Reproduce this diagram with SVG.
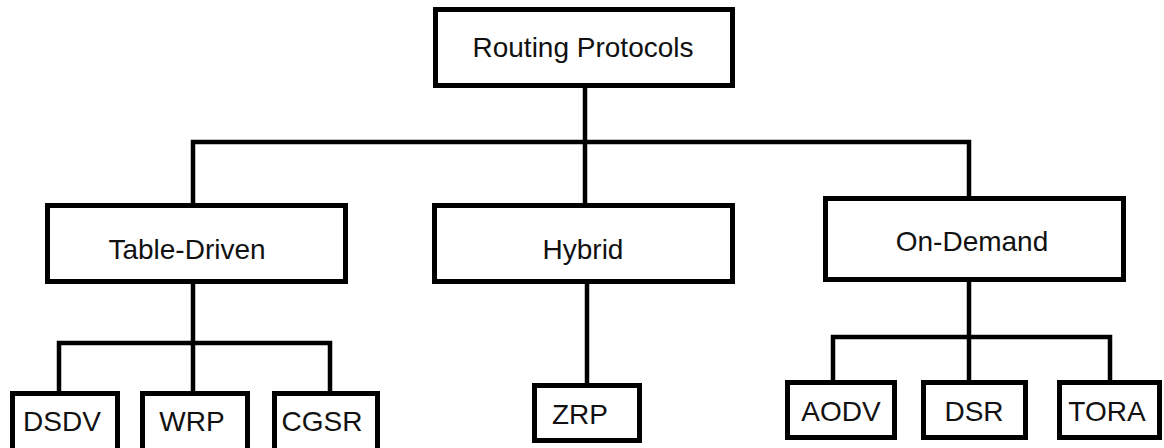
<svg xmlns="http://www.w3.org/2000/svg" width="1164" height="448" viewBox="0 0 1164 448">
<style>
.box{fill:#fff;stroke:#000;stroke-width:5}
.ln{fill:none;stroke:#000;stroke-width:4.5;stroke-linecap:square}
.t{font-family:"Liberation Sans",Arial,sans-serif;font-size:28px;fill:#111;text-anchor:middle}
</style>
<rect width="1164" height="448" fill="#fff"/>
<g id="connectors">
<polyline class="ln" points="585,88 585,203"/>
<polyline class="ln" points="193,203 193,142 969,142 969,196"/>
<polyline class="ln" points="193,284 193,343"/>
<polyline class="ln" points="59,391 59,343 330,343 330,391"/>
<polyline class="ln" points="193,343 193,391"/>
<polyline class="ln" points="587,284 587,383"/>
<polyline class="ln" points="969,282 969,380"/>
<polyline class="ln" points="833,380 833,337 1110,337 1110,380"/>
</g>
<g id="root"><rect class="box" x="435.5" y="9.5" width="297" height="76"/><text class="t" x="583" y="57">Routing Protocols</text></g>
<g id="table-driven"><rect class="box" x="47.5" y="205.5" width="298" height="76"/><text class="t" x="187" y="259">Table-Driven</text></g>
<g id="hybrid"><rect class="box" x="434.5" y="205.5" width="298" height="76"/><text class="t" x="583" y="259">Hybrid</text></g>
<g id="on-demand"><rect class="box" x="825.5" y="198.5" width="298" height="81"/><text class="t" x="972" y="251">On-Demand</text></g>
<g id="dsdv"><rect class="box" x="12.5" y="393.5" width="105" height="62"/><text class="t" x="62" y="431">DSDV</text></g>
<g id="wrp"><rect class="box" x="142.5" y="393.5" width="105" height="62"/><text class="t" x="192" y="431">WRP</text></g>
<g id="cgsr"><rect class="box" x="274.5" y="393.5" width="103" height="62"/><text class="t" x="322" y="431">CGSR</text></g>
<g id="zrp"><rect class="box" x="534.5" y="385.5" width="105" height="55"/><text class="t" x="580" y="424">ZRP</text></g>
<g id="aodv"><rect class="box" x="787.5" y="382.5" width="107" height="55"/><text class="t" x="841" y="421">AODV</text></g>
<g id="dsr"><rect class="box" x="923.5" y="382.5" width="102" height="55"/><text class="t" x="974" y="421">DSR</text></g>
<g id="tora"><rect class="box" x="1059.5" y="382.5" width="100" height="55"/><text class="t" x="1107" y="421">TORA</text></g>
</svg>
